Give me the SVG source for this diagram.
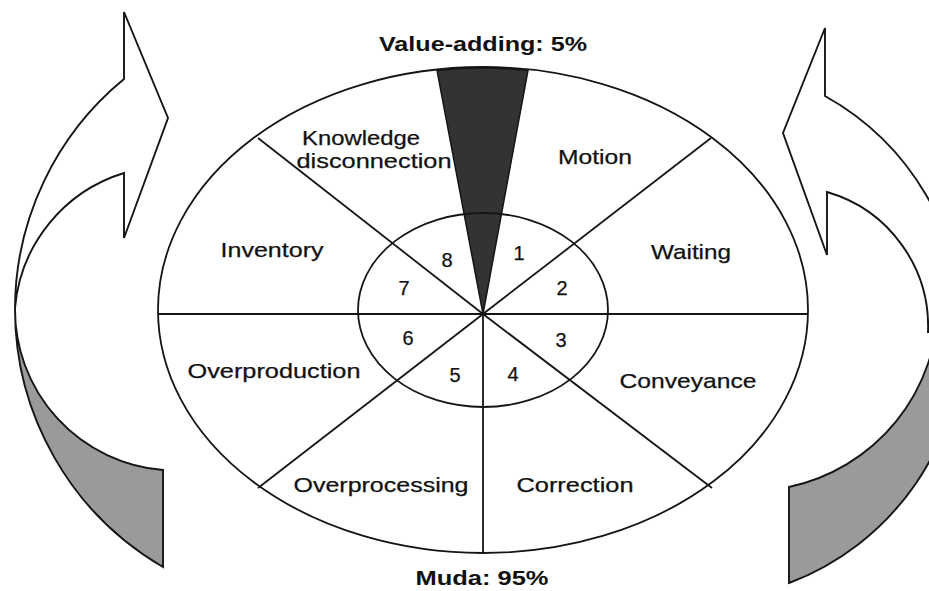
<svg xmlns="http://www.w3.org/2000/svg" width="929" height="591" viewBox="0 0 929 591">
  <style>
    .ln { fill: none; stroke: #151515; stroke-width: 1.8; }
    .arrow { fill: #ffffff; stroke: #151515; stroke-width: 1.9; stroke-linejoin: miter; }
    .arrow-shade { fill: #9a9a9a; stroke: #151515; stroke-width: 1.9; }
    .lbl { font-family: "Liberation Sans", Arial, Helvetica, sans-serif; font-size: 21px; fill: #111111; text-anchor: middle; stroke: #111111; stroke-width: 0.25; }
    .num { font-family: "Liberation Sans", Arial, Helvetica, sans-serif; font-size: 20px; fill: #111111; text-anchor: middle; stroke: #111111; stroke-width: 0.25; }
    .head { font-family: "Liberation Sans", Arial, Helvetica, sans-serif; font-size: 20px; font-weight: bold; fill: #111111; text-anchor: middle; }
  </style>
  <rect width="929" height="591" fill="#ffffff"/>

  <!-- left circular arrow: white shaft with head, shaded tail -->
  <g id="arrow-left">
    <path class="arrow" d="M124,79 L124,12 L168,118 L124,238 L124,173 A155,155 0 0 0 15,308 A298,298 0 0 1 124,79 Z"/>
    <path class="arrow-shade" d="M15,308 A298,298 0 0 0 163,567 L163,470 A161,161 0 0 1 15,308 Z"/>
  </g>

  <!-- right circular arrow (runs past the right border) -->
  <g id="arrow-right">
    <path class="arrow" d="M963,331 A269,269 0 0 0 825,96 L825,28 L783,133 L827,255 L827,192 A140,140 0 0 1 928,332 Z"/>
    <path class="arrow-shade" d="M789,487 L789,583 A269,269 0 0 0 963,331 L938,303 A188,188 0 0 1 789,487 Z"/>
  </g>

  <!-- wheel outline -->
  <g id="wheel">
    <ellipse class="ln" cx="483" cy="310" rx="325" ry="243"/>
    <path id="value-wedge" d="M483,314 L437,70.4 A325,243 0 0 1 528,70.4 Z" fill="#333333" stroke="#151515" stroke-width="1.5"/>
    <ellipse class="ln" cx="483" cy="310" rx="125" ry="97"/>
  </g>

  <!-- spokes dividing the eight wastes -->
  <g id="connectors" class="ln">
    <line x1="158" y1="314" x2="808" y2="314"/>
    <line x1="483" y1="314" x2="258" y2="138"/>
    <line x1="483" y1="314" x2="711" y2="138"/>
    <line x1="483" y1="314" x2="258" y2="488"/>
    <line x1="483" y1="314" x2="712" y2="488"/>
    <line x1="483" y1="314" x2="483" y2="553"/>
  </g>

  <g id="title-value"><text class="head" x="483" y="51" textLength="208" lengthAdjust="spacingAndGlyphs">Value-adding: 5%</text></g>
  <g id="title-muda"><text class="head" x="482" y="585" textLength="133" lengthAdjust="spacingAndGlyphs">Muda: 95%</text></g>

  <g id="seg-motion"><text class="lbl" x="595" y="164" textLength="74" lengthAdjust="spacingAndGlyphs">Motion</text><text class="num" x="519" y="260">1</text></g>
  <g id="seg-waiting"><text class="lbl" x="691" y="259" textLength="80" lengthAdjust="spacingAndGlyphs">Waiting</text><text class="num" x="562" y="295">2</text></g>
  <g id="seg-conveyance"><text class="lbl" x="688" y="388" textLength="137" lengthAdjust="spacingAndGlyphs">Conveyance</text><text class="num" x="561" y="347">3</text></g>
  <g id="seg-correction"><text class="lbl" x="575" y="492" textLength="117" lengthAdjust="spacingAndGlyphs">Correction</text><text class="num" x="513" y="381">4</text></g>
  <g id="seg-overprocessing"><text class="lbl" x="381" y="492" textLength="175" lengthAdjust="spacingAndGlyphs">Overprocessing</text><text class="num" x="455" y="382">5</text></g>
  <g id="seg-overproduction"><text class="lbl" x="274" y="378" textLength="173" lengthAdjust="spacingAndGlyphs">Overproduction</text><text class="num" x="408" y="345">6</text></g>
  <g id="seg-inventory"><text class="lbl" x="272" y="257" textLength="103" lengthAdjust="spacingAndGlyphs">Inventory</text><text class="num" x="404" y="295">7</text></g>
  <g id="seg-knowledge"><text class="lbl" x="361" y="145" textLength="118" lengthAdjust="spacingAndGlyphs">Knowledge</text><text class="lbl" x="374" y="168" textLength="155" lengthAdjust="spacingAndGlyphs">disconnection</text><text class="num" x="447" y="267">8</text></g>
</svg>
